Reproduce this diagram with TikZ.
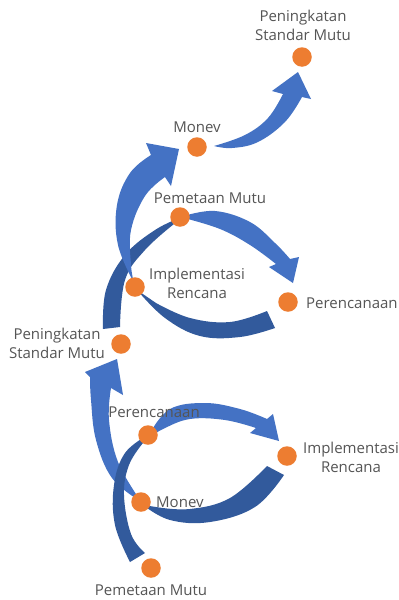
\documentclass[tikz,border=0pt]{standalone}
\usepackage{fontspec}
\setmainfont{Open Sans}
\definecolor{lightblue}{HTML}{4472C4}
\definecolor{darkblue}{HTML}{325A9C}
\definecolor{dotorange}{HTML}{ED7D31}
\definecolor{textgray}{HTML}{555555}
\tikzset{
  lightarrow/.style={fill=lightblue},
  darkband/.style={fill=darkblue},
  dot/.style={circle, fill=dotorange, minimum size=19.5pt, inner sep=0pt},
  lbl/.style={text=textgray, font=\fontsize{15}{19}\selectfont, align=center, inner sep=0pt},
  sm/.style={smooth, tension=0.65}
}
\begin{document}
\begin{tikzpicture}[x=1pt,y=-1pt]
\fill[white] (0,0) rectangle (399,600);
\useasboundingbox (0,0) rectangle (399,600);

% ---------- middle cycle ----------
% H: dark band, Peningkatan (mid) -> Pemetaan Mutu (mid)
\fill[darkband] plot[sm] coordinates {(103,329) (106,290) (125,255) (155,230) (182,217)}
  -- plot[sm] coordinates {(174,224) (145,250) (125,280) (120,327)} -- cycle;
% I: dark band, Perencanaan (mid) -> Implementasi (mid)
\fill[darkband] plot[sm] coordinates {(275,328) (240,337) (200,336) (165,318) (137,290)}
  -- plot[sm] coordinates {(156,303) (190,318) (230,322) (267,311)} -- cycle;
% C: light arrow, Pemetaan Mutu -> Perencanaan
\fill[lightarrow] plot[sm] coordinates {(184,216) (215,211) (250,222) (275,243) (290,259)}
  -- (299,257) -- (293,283) -- (269,267)
  -- plot[sm] coordinates {(276,264) (250,245) (220,229) (184,218)} -- cycle;
% B: light arrow, Implementasi -> Monev (top)
\fill[lightarrow] plot[sm] coordinates {(134,283) (118,245) (117,205) (130,173) (151,155)}
  -- (146,143) -- (179,149) -- (171,186)
  -- plot[sm] coordinates {(165,177) (145,196) (131,230) (131,265) (134,283)} -- cycle;

% ---------- top ----------
% A: light arrow, Monev (top) -> Peningkatan (top)
\fill[lightarrow] plot[sm] coordinates {(214,146) (245,135) (268,118) (283,94)}
  -- (272,91) -- (298,72) -- (311,99)
  -- plot[sm] coordinates {(302,97) (285,122) (258,142) (232,148) (214,146)} -- cycle;

% ---------- bottom cycle ----------
% E: light arrow, Monev (bottom) -> Peningkatan (mid)
\fill[lightarrow] plot[sm] coordinates {(140,501) (112,478) (96,440) (91,400) (90,377)}
  -- (85,372) -- (117,359) -- (123,395)
  -- plot[sm] coordinates {(111,388) (109,420) (118,462) (140,500)} -- cycle;
% F: dark band, Pemetaan Mutu (bottom) -> Perencanaan (bottom)
\fill[darkband] plot[sm] coordinates {(130,562) (115,525) (114,485) (125,453) (148,435)}
  -- plot[sm] coordinates {(143,443) (129,465) (124,495) (131,534) (145,553)} -- cycle;
% G: dark band, Implementasi (bottom) -> Monev (bottom)
\fill[darkband] plot[sm] coordinates {(284,475) (255,507) (210,522) (170,520) (143,505)}
  -- plot[sm] coordinates {(156,507) (190,509) (230,498) (267,466)} -- cycle;
% D: light arrow, Perencanaan (bottom) -> Implementasi (bottom)
\fill[lightarrow] plot[sm] coordinates {(150,433) (170,409) (205,403) (240,409) (267,419)}
  -- (273,414) -- (279,441) -- (250,433)
  -- plot[sm] coordinates {(256,428) (225,420) (190,419) (163,429) (151,437)} -- cycle;

% ---------- dots ----------
\node[dot] (psm1) at (302,57) {};
\node[dot] (mon1) at (197,147) {};
\node[dot] (pem2) at (180,217) {};
\node[dot] (imp2) at (135,287) {};
\node[dot] (per2) at (288,302) {};
\node[dot] (psm2) at (121,344) {};
\node[dot] (per3) at (148,435) {};
\node[dot] (imp3) at (287,456) {};
\node[dot] (mon3) at (141,502) {};
\node[dot] (pem3) at (151,568) {};

% ---------- labels ----------
\node[lbl] (tpsm1) at (303,25) {Peningkatan\\Standar Mutu};
\node[lbl] (tmon1) at (197,127) {Monev};
\node[lbl] (tpem2) at (210,198) {Pemetaan Mutu};
\node[lbl] (timp2) at (197,283) {Implementasi\\Rencana};
\node[lbl, anchor=west] (tper2) at (306,303) {Perencanaan};
\node[lbl] (tpsm2) at (57,343) {Peningkatan\\Standar Mutu};
\node[lbl] (tper3) at (154,412) {Perencanaan};
\node[lbl] (timp3) at (351,457) {Implementasi\\Rencana};
\node[lbl, anchor=west] (tmon3) at (156,502) {Monev};
\node[lbl] (tpem3) at (151,590) {Pemetaan Mutu};
\end{tikzpicture}
\end{document}
